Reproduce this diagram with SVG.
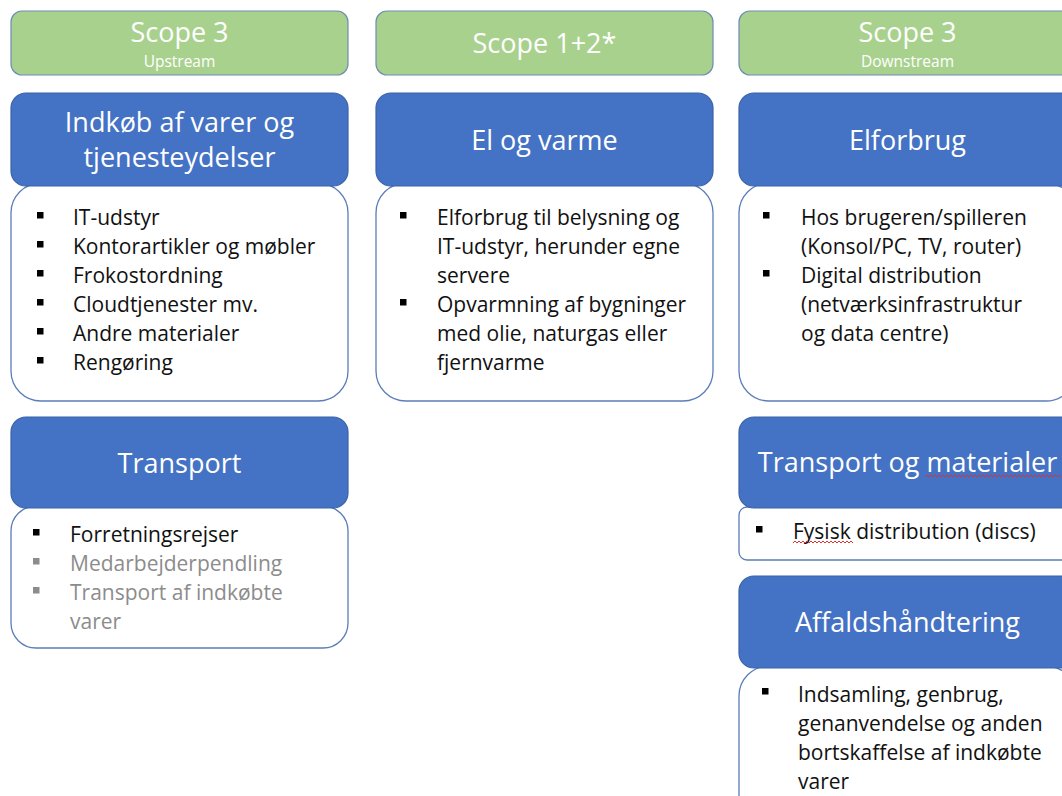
<svg xmlns="http://www.w3.org/2000/svg" width="1062" height="796" viewBox="0 0 1062 796">
  <style>
    .scope { fill: #A9D18E; stroke: #6F8DB5; stroke-width: 1.2; }
    .head { fill: #4472C4; stroke: #3A62A8; stroke-width: 1.2; }
    .body { fill: #FFFFFF; stroke: #5B7DB8; stroke-width: 1.3; }
    .t-scope { font-family: "Open Sans", "Noto Sans", sans-serif; font-size: 27px; fill: #FFFFFF; text-anchor: middle; }
    .t-sub { font-family: "Open Sans", "Noto Sans", sans-serif; font-size: 15.5px; fill: #FFFFFF; text-anchor: middle; }
    .t-head { font-family: "Open Sans", "Noto Sans", sans-serif; font-size: 27px; fill: #FFFFFF; text-anchor: middle; }
    .t-item { font-family: "Open Sans", "Noto Sans", sans-serif; font-size: 21px; fill: #111111; }
    .t-dim { fill: #8C8C8C; }
    .dot { fill: #000000; }
    .dot-dim { fill: #8C8C8C; }
    .squiggle { fill: none; stroke: #E03030; stroke-width: 1; }
  </style>

  <!-- Column headers -->
  <g id="scope3-upstream">
    <rect class="scope" x="11" y="11" width="337" height="64" rx="11"/>
    <text class="t-scope" x="179.5" y="42">Scope 3</text>
    <text class="t-sub" x="179.5" y="67">Upstream</text>
  </g>
  <g id="scope12">
    <rect class="scope" x="376" y="11" width="337" height="64" rx="11"/>
    <text class="t-scope" x="544.5" y="53">Scope 1+2*</text>
  </g>
  <g id="scope3-downstream">
    <rect class="scope" x="739" y="11" width="337" height="64" rx="11"/>
    <text class="t-scope" x="907.5" y="42">Scope 3</text>
    <text class="t-sub" x="907.5" y="67">Downstream</text>
  </g>

  <!-- Upstream: purchased goods and services -->
  <g id="indkoeb">
    <rect class="body" x="11" y="183" width="337" height="218" rx="30"/>
    <rect class="head" x="11" y="93" width="337" height="93" rx="15"/>
    <text class="t-head" x="179.5" y="132">Indkøb af varer og</text>
    <text class="t-head" x="179.5" y="167">tjenesteydelser</text>
    <rect class="dot" x="37" y="212" width="6.5" height="6.5"/>
    <text class="t-item" x="73" y="225">IT-udstyr</text>
    <rect class="dot" x="37" y="241" width="6.5" height="6.5"/>
    <text class="t-item" x="73" y="254">Kontorartikler og møbler</text>
    <rect class="dot" x="37" y="270" width="6.5" height="6.5"/>
    <text class="t-item" x="73" y="283">Frokostordning</text>
    <rect class="dot" x="37" y="299" width="6.5" height="6.5"/>
    <text class="t-item" x="73" y="312">Cloudtjenester mv.</text>
    <rect class="dot" x="37" y="328" width="6.5" height="6.5"/>
    <text class="t-item" x="73" y="341">Andre materialer</text>
    <rect class="dot" x="37" y="357" width="6.5" height="6.5"/>
    <text class="t-item" x="73" y="370">Rengøring</text>
  </g>

  <!-- Upstream: transport -->
  <g id="transport-up">
    <rect class="body" x="11" y="506" width="337" height="142" rx="25"/>
    <rect class="head" x="11" y="417" width="337" height="91" rx="15"/>
    <text class="t-head" x="179.5" y="473">Transport</text>
    <rect class="dot" x="33" y="529" width="6.5" height="6.5"/>
    <text class="t-item" x="70" y="542">Forretningsrejser</text>
    <rect class="dot-dim" x="33" y="558" width="6.5" height="6.5"/>
    <text class="t-item t-dim" x="70" y="571">Medarbejderpendling</text>
    <rect class="dot-dim" x="33" y="587" width="6.5" height="6.5"/>
    <text class="t-item t-dim" x="70" y="600">Transport af indkøbte</text>
    <text class="t-item t-dim" x="70" y="629">varer</text>
  </g>

  <!-- Scope 1+2: electricity and heating -->
  <g id="el-varme">
    <rect class="body" x="376" y="183" width="337" height="218" rx="30"/>
    <rect class="head" x="376" y="93" width="337" height="93" rx="15"/>
    <text class="t-head" x="544.5" y="150">El og varme</text>
    <rect class="dot" x="400" y="212" width="6.5" height="6.5"/>
    <text class="t-item" x="437" y="225">Elforbrug til belysning og</text>
    <text class="t-item" x="437" y="254">IT-udstyr, herunder egne</text>
    <text class="t-item" x="437" y="283">servere</text>
    <rect class="dot" x="400" y="299" width="6.5" height="6.5"/>
    <text class="t-item" x="437" y="312">Opvarmning af bygninger</text>
    <text class="t-item" x="437" y="341">med olie, naturgas eller</text>
    <text class="t-item" x="437" y="370">fjernvarme</text>
  </g>

  <!-- Downstream: electricity use -->
  <g id="elforbrug">
    <rect class="body" x="739" y="183" width="337" height="218" rx="30"/>
    <rect class="head" x="739" y="93" width="337" height="93" rx="15"/>
    <text class="t-head" x="907.5" y="150">Elforbrug</text>
    <rect class="dot" x="763" y="212" width="6.5" height="6.5"/>
    <text class="t-item" x="801" y="225">Hos brugeren/spilleren</text>
    <text class="t-item" x="801" y="254">(Konsol/PC, TV, router)</text>
    <rect class="dot" x="763" y="270" width="6.5" height="6.5"/>
    <text class="t-item" x="801" y="283">Digital distribution</text>
    <text class="t-item" x="801" y="312">(netværksinfrastruktur</text>
    <text class="t-item" x="801" y="341">og data centre)</text>
  </g>

  <!-- Downstream: transport and materials -->
  <g id="transport-down">
    <rect class="body" x="739" y="507" width="337" height="53" rx="8"/>
    <rect class="head" x="739" y="417" width="337" height="91" rx="15"/>
    <text class="t-head" x="907.5" y="472">Transport og materialer</text>
    <path class="squiggle" d="M925 477 l2 -2 l2 2 l2 -2 l2 2 l2 -2 l2 2 l2 -2 l2 2 l2 -2 l2 2 l2 -2 l2 2 l2 -2 l2 2 l2 -2 l2 2 l2 -2 l2 2 l2 -2 l2 2 l2 -2 l2 2 l2 -2 l2 2 l2 -2 l2 2 l2 -2 l2 2 l2 -2 l2 2 l2 -2 l2 2 l2 -2 l2 2 l2 -2 l2 2 l2 -2 l2 2 l2 -2 l2 2 l2 -2 l2 2 l2 -2 l2 2 l2 -2 l2 2 l2 -2 l2 2 l2 -2 l2 2 l2 -2 l2 2 l2 -2 l2 2 l2 -2 l2 2 l2 -2 l2 2 l2 -2 l2 2 l2 -2 l2 2 l2 -2 l2 2 l2 -2 l2 2 l2 -2 l2 2"/>
    <rect class="dot" x="756" y="526" width="6.5" height="6.5"/>
    <text class="t-item" x="793" y="539">Fysisk distribution (discs)</text>
    <path class="squiggle" d="M793 543 l2 -2 l2 2 l2 -2 l2 2 l2 -2 l2 2 l2 -2 l2 2 l2 -2 l2 2 l2 -2 l2 2 l2 -2 l2 2 l2 -2 l2 2 l2 -2 l2 2 l2 -2 l2 2 l2 -2 l2 2 l2 -2 l2 2 l2 -2 l2 2 l2 -2 l2 2 l2 -2 l2 2"/>
  </g>

  <!-- Downstream: waste handling -->
  <g id="affald">
    <rect class="body" x="739" y="666" width="337" height="200" rx="30"/>
    <rect class="head" x="739" y="576" width="337" height="92" rx="15"/>
    <text class="t-head" x="907.5" y="632">Affaldshåndtering</text>
    <rect class="dot" x="762" y="688" width="6.5" height="6.5"/>
    <text class="t-item" x="798" y="702">Indsamling, genbrug,</text>
    <text class="t-item" x="798" y="731">genanvendelse og anden</text>
    <text class="t-item" x="798" y="760">bortskaffelse af indkøbte</text>
    <text class="t-item" x="798" y="789">varer</text>
  </g>

  <!-- No connectors in this layout -->
  <g id="connectors"/>
</svg>
